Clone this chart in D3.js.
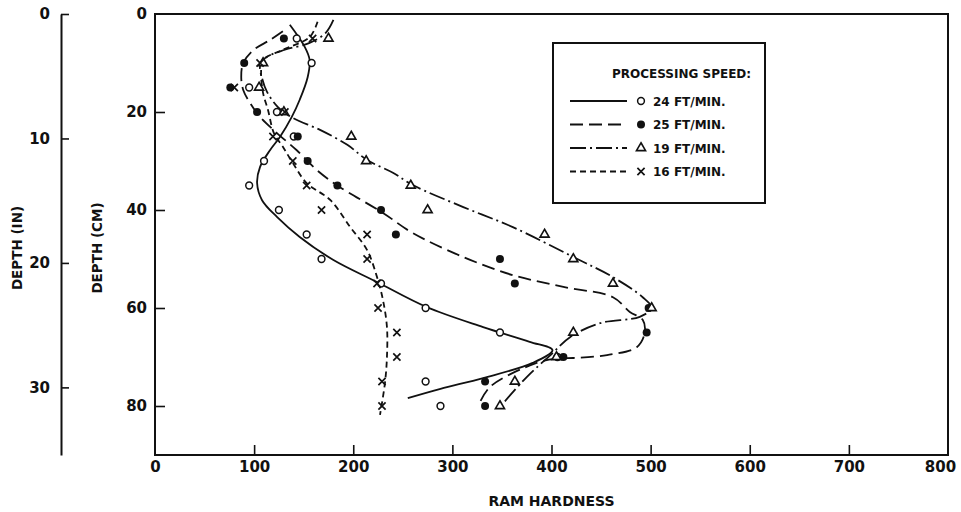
<!DOCTYPE html>
<html>
<head>
<meta charset="utf-8">
<script src="https://cdn.jsdelivr.net/npm/d3@7"></script>
<style>
  html, body { margin: 0; padding: 0; background: #fff; }
  svg { display: block; }
  text { font-family: "DejaVu Sans", "Liberation Sans", sans-serif; font-weight: bold; fill: #111; }
</style>
</head>
<body>
<svg id="chart" width="961" height="512"></svg>
<script>
// Sampling depths (cm) shared by all four runs
const depths = [5, 10, 15, 20, 25, 30, 35, 40, 45, 50, 55, 60, 65, 70, 75, 80];

// Measured ram hardness at each depth, per processing speed
const hardness24 = [143, 158, 95, 123, 140, 110, 95, 125, 153, 168, 228, 273, 348, 406, 273, 288];
const hardness25 = [130, 90, 76, 103, 144, 154, 184, 228, 243, 348, 363, 498, 496, 412, 333, 333];
const hardness19 = [175, 109, 105, 130, 198, 213, 258, 275, 393, 422, 462, 501, 422, 405, 363, 348];
const hardness16 = [159, 106, 80, 131, 119, 139, 153, 168, 214, 214, 224, 225, 244, 244, 229, 229];

// Hand-fitted trend curves: [hardness, depth cm]
const curve24 = [[136,2.2],[151,6.7],[156,9.4],[154,12.9],[146,17.5],[138,21],[126,25.1],[116,27.8],
  [106,31.2],[103,34.5],[108,38],[123,41.4],[146,45.5],[180,50.2],[224,54.7],[274,59.8],[331,63.9],
  [378,66.9],[401,68.6],[381,71.2],[331,74.3],[288,76.5],[255,78.4]];
const curve25 = [[129,3.5],[116,5.3],[99,7.4],[89,10],[87,12.9],[89,15.5],[96,18.2],[106,21],[123,24.3],
  [143,27.8],[163,31.8],[184,35],[230,40.6],[260,44.7],[311,49.6],[361,53.3],[412,55.7],[462,57.8],
  [479,60.8],[492,62.4],[494,65.1],[486,68],[456,69.6],[422,70.2],[405,70.3],[385,71.2],[338,76.1],[326,80]];
const curve19 = [[180,1.2],[172,3.9],[156,5.9],[131,7.3],[111,9],[106,10.6],[108,13.1],[113,15.9],[124,19],
  [139,21.2],[167,23.7],[194,26.7],[214,29.8],[240,32.4],[260,34.9],[311,39.4],[361,43.5],[422,49.6],
  [462,53.7],[492,57.8],[501,60],[489,61.8],[449,63.1],[419,65.9],[399,69.6],[375,74.1],[348,80.2]];
const curve16 = [[164,1.6],[156,4.7],[129,7.3],[109,9.4],[107,12],[109,16.1],[114,19.6],[120,24.3],
  [129,27.1],[139,30.4],[153,34.5],[177,38],[197,43.5],[214,48.2],[224,53.7],[230,58.4],[234,63.9],
  [234,70],[232,75.3],[227,81.8]];

// Axis ticks
const xTicks = [0, 100, 200, 300, 400, 500, 600, 700, 800];
const cmTicks = [0, 20, 40, 60, 80];
const inTicks = [0, 10, 20, 30];

// Legend entries
const speedLabels = ["24 FT/MIN.", "25 FT/MIN.", "19 FT/MIN.", "16 FT/MIN."];

const svg = d3.select("#chart");
const ink = "#111";

const frameL = 155, frameR = 948, frameT = 14, frameB = 455;
const x = d3.scaleLinear().domain([0, 800]).range([frameL, frameR]);
const y = d3.scaleLinear().domain([0, 90]).range([frameT, frameB]);
const yIn = d3.scaleLinear().domain([0, 90 / 2.54]).range([frameT, frameB]);

// Plot frame
svg.append("rect")
  .attr("x", frameL).attr("y", frameT)
  .attr("width", frameR - frameL).attr("height", frameB - frameT)
  .attr("fill", "none").attr("stroke", ink).attr("stroke-width", 2);

// Bottom axis: ticks point inward
const xAxis = d3.axisBottom(x).tickValues(xTicks).tickSizeInner(-10).tickSizeOuter(0).tickPadding(6)
  .tickFormat(d3.format("d"));
const gx = svg.append("g").attr("transform", `translate(0,${frameB})`).call(xAxis);
gx.select(".domain").remove();
gx.selectAll(".tick line").attr("stroke", ink).attr("stroke-width", 1.6)
  .filter(d => d === 0 || d === 800).remove();
gx.selectAll(".tick text").attr("font-size", 15).attr("font-family", "DejaVu Sans")
  .attr("font-weight", "bold").attr("fill", ink);
// keep the last label inside the page
gx.selectAll(".tick text").filter(d => d === 800).attr("dx", -8);

// Left depth axis (cm): ticks point inward
const yAxis = d3.axisLeft(y).tickValues(cmTicks).tickSizeInner(-10).tickSizeOuter(0).tickPadding(8)
  .tickFormat(d3.format("d"));
const gy = svg.append("g").attr("transform", `translate(${frameL},0)`).call(yAxis);
gy.select(".domain").remove();
gy.selectAll(".tick line").attr("stroke", ink).attr("stroke-width", 1.6)
  .filter(d => d === 0).remove();
gy.selectAll(".tick text").attr("font-size", 15).attr("font-family", "DejaVu Sans")
  .attr("font-weight", "bold").attr("fill", ink);

// Separate depth axis in inches
const inX = 61;
const yInAxis = d3.axisRight(yIn).tickValues(inTicks).tickSizeInner(8).tickSizeOuter(0)
  .tickFormat(d3.format("d"));
const gIn = svg.append("g").attr("transform", `translate(${inX},0)`).call(yInAxis);
gIn.select(".domain").attr("stroke", ink).attr("stroke-width", 2);
gIn.selectAll(".tick line").attr("stroke", ink).attr("stroke-width", 1.6);
gIn.selectAll(".tick text").attr("x", -11).attr("text-anchor", "end")
  .attr("font-size", 15).attr("font-family", "DejaVu Sans")
  .attr("font-weight", "bold").attr("fill", ink);

// Axis titles
svg.append("text").attr("transform", "translate(22,248) rotate(-90)")
  .attr("text-anchor", "middle").attr("font-size", 13.5).text("DEPTH (IN)");
svg.append("text").attr("transform", "translate(102,248) rotate(-90)")
  .attr("text-anchor", "middle").attr("font-size", 13.5).text("DEPTH (CM)");
svg.append("text").attr("x", (frameL + frameR) / 2).attr("y", 506)
  .attr("text-anchor", "middle").attr("font-size", 14).text("RAM HARDNESS");

// Series styles
const series = [
  { values: hardness24, curve: curve24, dash: null, marker: "open" },
  { values: hardness25, curve: curve25, dash: "13,6", marker: "filled" },
  { values: hardness19, curve: curve19, dash: "16,4,2,4", marker: "triangle" },
  { values: hardness16, curve: curve16, dash: "6,4", marker: "cross" }
];

const line = d3.line()
  .x(d => x(d[0])).y(d => y(d[1]))
  .curve(d3.curveCatmullRom.alpha(0.5));

const plot = svg.append("g");

series.forEach(s => {
  plot.append("path")
    .attr("d", line(s.curve))
    .attr("fill", "none").attr("stroke", ink).attr("stroke-width", 1.8)
    .attr("stroke-dasharray", s.dash);
});

function drawMarker(g, type, cx, cy) {
  if (type === "open") {
    g.append("circle").attr("cx", cx).attr("cy", cy).attr("r", 3.4)
      .attr("fill", "#fff").attr("stroke", ink).attr("stroke-width", 1.5);
  } else if (type === "filled") {
    g.append("circle").attr("cx", cx).attr("cy", cy).attr("r", 4)
      .attr("fill", ink);
  } else if (type === "triangle") {
    g.append("path").attr("d", d3.symbol(d3.symbolTriangle, 36)())
      .attr("transform", `translate(${cx},${cy})`)
      .attr("fill", "#fff").attr("stroke", ink).attr("stroke-width", 1.6);
  } else {
    const r = 3.6;
    g.append("path")
      .attr("d", `M${cx - r},${cy - r}L${cx + r},${cy + r}M${cx - r},${cy + r}L${cx + r},${cy - r}`)
      .attr("stroke", ink).attr("stroke-width", 1.7).attr("fill", "none");
  }
}

series.forEach(s => {
  s.values.forEach((v, i) => drawMarker(plot, s.marker, x(v), y(depths[i])));
});

// Legend
const lg = svg.append("g");
const lx = 553, ly = 43, lw = 212, lh = 160;
lg.append("rect").attr("x", lx).attr("y", ly).attr("width", lw).attr("height", lh)
  .attr("fill", "#fff").attr("stroke", ink).attr("stroke-width", 2);
lg.append("text").attr("x", 612).attr("y", 78).attr("font-size", 12)
  .text("PROCESSING SPEED:");
speedLabels.forEach((label, i) => {
  const ry = 101 + i * 23.5;
  lg.append("line").attr("x1", 570).attr("x2", 627).attr("y1", ry).attr("y2", ry)
    .attr("stroke", ink).attr("stroke-width", 1.8).attr("stroke-dasharray", series[i].dash);
  drawMarker(lg, series[i].marker, 641, ry);
  lg.append("text").attr("x", 653).attr("y", ry + 4.5).attr("font-size", 12)
    .text(label);
});
</script>
</body>
</html>
